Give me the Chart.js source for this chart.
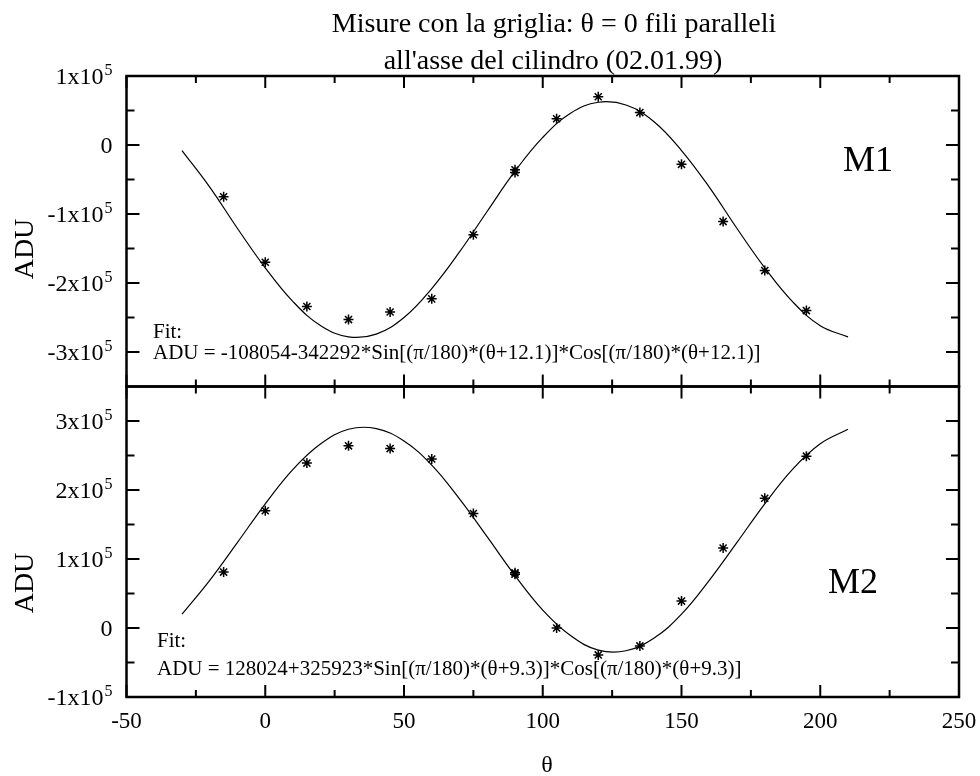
<!DOCTYPE html>
<html>
<head>
<meta charset="utf-8">
<script src="https://cdn.jsdelivr.net/npm/chart.js@4.4.1/dist/chart.umd.min.js"></script>
<style>
  html, body { margin: 0; padding: 0; background: #fff; }
  canvas { display: block; }
</style>
</head>
<body>
<canvas id="graphe" width="980" height="776"></canvas>
<script>
// --- Données ---
const thetaMesure = [-15, 0, 15, 30, 45, 60, 75, 90, 90, 105, 120, 135, 150, 165, 180, 195];
const mesureM1 = [-75000, -170000, -234000, -253000, -242000, -223000, -130000, -36000, -40000, 38000, 70000, 47000, -28000, -111000, -182000, -240000];
const mesureM2 = [81000, 170000, 239000, 264000, 260000, 245000, 166000, 80000, 78000, 0, -39000, -26000, 39000, 116000, 188000, 249000];

const thetaFit = [-30, -20, -10, 0, 10, 20, 30, 40, 50, 60, 70, 80, 90, 100, 110, 120, 130, 140, 150, 160, 170, 180, 190, 200, 210];
const fitM1 = [-8000, -61000, -121000, -178000, -227000, -262000, -278000, -274000, -250000, -208000, -155000, -96000, -38000, 11000, 46000, 62000, 58000, 34000, -8000, -61000, -121000, -178000, -227000, -262000, -278000];
const fitM2 = [20000, 69000, 124000, 180000, 230000, 267000, 288000, 289000, 271000, 236000, 187000, 132000, 76000, 26000, -11000, -32000, -33000, -15000, 20000, 69000, 124000, 180000, 230000, 267000, 288000];

const xMajeurs = [-50, 0, 50, 100, 150, 200, 250];
const xMineurs = [-25, 25, 75, 125, 175, 225];
const yHautMajeurs = [-300000, -200000, -100000, 0, 100000];
const yHautMineurs = [-250000, -150000, -50000, 50000];
const yBasMajeurs = [-100000, 0, 100000, 200000, 300000];
const yBasMineurs = [-50000, 50000, 150000, 250000];

const titre = ['Misure con la griglia: θ = 0 fili paralleli', "all'asse del cilindro (02.01.99)"];
const formuleM1 = 'ADU = -108054-342292*Sin[(π/180)*(θ+12.1)]*Cos[(π/180)*(θ+12.1)]';
const formuleM2 = 'ADU = 128024+325923*Sin[(π/180)*(θ+9.3)]*Cos[(π/180)*(θ+9.3)]';

const points = (xs, ys) => xs.map((x, i) => ({ x, y: ys[i] }));
const police = (px) => px + 'px "Liberation Serif", "Times New Roman", serif';

// --- Cadre, graduations et textes (positions tirées des échelles) ---
const cadre = {
    id: 'cadre',
    afterDraw(chart) {
        const { ctx, scales } = chart;
        const sx = scales.x;
        const panneaux = [
            { s: scales.yHaut, maj: yHautMajeurs, min: yHautMineurs },
            { s: scales.yBas, maj: yBasMajeurs, min: yBasMineurs },
        ];
        const G = sx.left, D = sx.right;
        ctx.save();
        ctx.strokeStyle = '#000';
        ctx.fillStyle = '#000';

        panneaux.forEach(({ s, maj, min }) => {
            const H = s.top, B = s.bottom;
            ctx.lineWidth = 2;
            const trait = (x1, y1, x2, y2) => { ctx.beginPath(); ctx.moveTo(x1, y1); ctx.lineTo(x2, y2); ctx.stroke(); };
            [[xMajeurs, 12], [xMineurs, 7]].forEach(([vals, l]) => vals.forEach(v => {
                const px = sx.getPixelForValue(v);
                trait(px, H, px, H + l);
                trait(px, B, px, B - l);
            }));
            [[maj, 13], [min, 8]].forEach(([vals, l]) => vals.forEach(v => {
                const py = s.getPixelForValue(v);
                trait(G, py, G + l, py);
                trait(D, py, D - l, py);
            }));
            ctx.lineWidth = 2.5;
            ctx.strokeRect(G, H, D - G, B - H);

            // étiquettes y : « 1x10⁵ »
            maj.forEach(v => {
                const py = s.getPixelForValue(v);
                const droite = G - 14;
                ctx.textAlign = 'right';
                ctx.textBaseline = 'alphabetic';
                if (v === 0) {
                    ctx.font = police(24);
                    ctx.fillText('0', droite, py + 8);
                    return;
                }
                ctx.font = police(16);
                const lSup = ctx.measureText('5').width;
                ctx.fillText('5', droite, py - 1);
                ctx.font = police(24);
                ctx.fillText((v / 100000) + 'x10', droite - lSup - 1, py + 8);
            });
        });

        // étiquettes x
        const bas = scales.yBas.bottom;
        ctx.font = police(23);
        ctx.textAlign = 'center';
        ctx.textBaseline = 'alphabetic';
        xMajeurs.forEach(v => ctx.fillText(String(v), sx.getPixelForValue(v), bas + 31));
        ctx.font = police(24);
        ctx.fillText('θ', 547, bas + 75);

        // titre
        ctx.font = police(28);
        ctx.fillText(titre[0], 554, 32);
        ctx.fillText(titre[1], 553, 69);

        // ADU
        [249, 583].forEach(cy => {
            ctx.save();
            ctx.translate(33, cy);
            ctx.rotate(-Math.PI / 2);
            ctx.font = police(28);
            ctx.textAlign = 'center';
            ctx.fillText('ADU', 0, 0);
            ctx.restore();
        });

        // étiquettes de panneau et formules
        ctx.textAlign = 'left';
        ctx.font = police(36);
        ctx.fillText('M1', 843, 171);
        ctx.fillText('M2', 828, 593);
        ctx.font = police(21);
        ctx.fillText('Fit:', 153, 338);
        ctx.fillText(formuleM1, 153, 359);
        ctx.fillText('Fit:', 157, 647);
        ctx.fillText(formuleM2, 157, 675);
        ctx.restore();
    },
};

const courbe = (data, axe) => ({
    type: 'line', data, yAxisID: axe,
    borderColor: '#000', borderWidth: 1.2, pointRadius: 0,
    tension: 0.4, fill: false,
});
const etoiles = (data, axe) => ({
    type: 'scatter', data, yAxisID: axe, showLine: false,
    pointStyle: 'star', pointRadius: 5, borderColor: '#000', borderWidth: 1.5,
});

new Chart(document.getElementById('graphe'), {
    type: 'scatter',
    data: {
        datasets: [
            courbe(points(thetaFit, fitM1), 'yHaut'),
            etoiles(points(thetaMesure, mesureM1), 'yHaut'),
            courbe(points(thetaFit, fitM2), 'yBas'),
            etoiles(points(thetaMesure, mesureM2), 'yBas'),
        ],
    },
    options: {
        responsive: false,
        animation: false,
        layout: { padding: { left: 126.5, right: 21, top: 76, bottom: 79 } },
        plugins: { legend: { display: false }, title: { display: false }, tooltip: { enabled: false } },
        scales: {
            x: { type: 'linear', min: -50, max: 250, display: false },
            yBas: { type: 'linear', min: -100000, max: 350000, display: false, stack: 'panneaux', stackWeight: 1, weight: 1 },
            yHaut: { type: 'linear', min: -350000, max: 100000, display: false, stack: 'panneaux', stackWeight: 1, weight: 2 },
        },
    },
    plugins: [cadre],
});
</script>
</body>
</html>
